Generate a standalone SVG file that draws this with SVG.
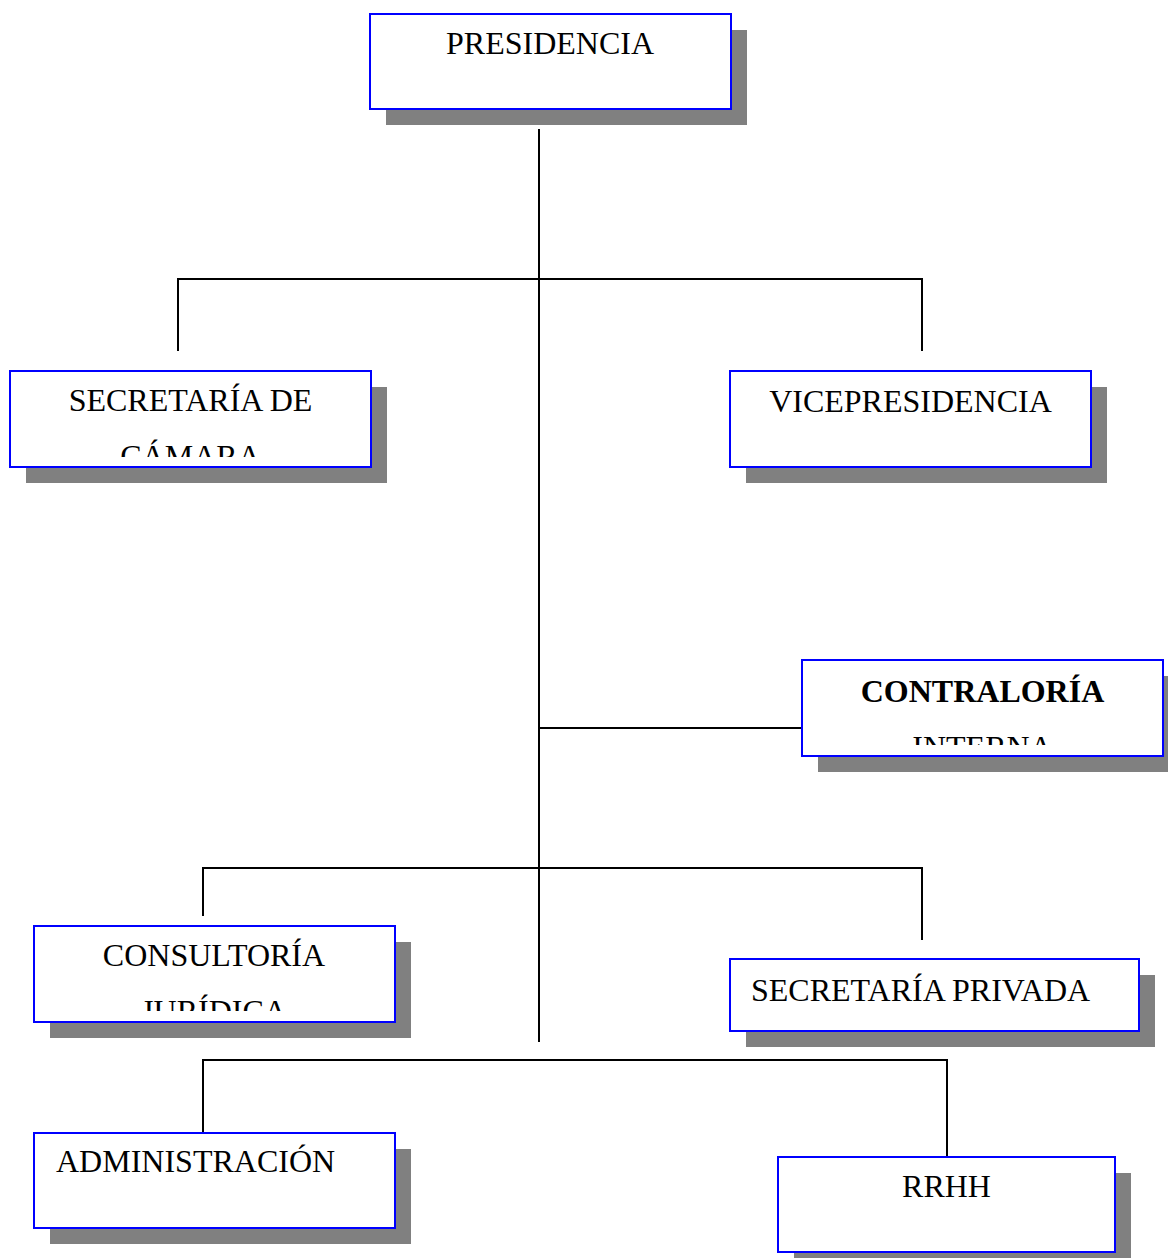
<svg xmlns="http://www.w3.org/2000/svg" width="1168" height="1258" viewBox="0 0 1168 1258">
<style>
.sh{fill:#808080}
.bx{fill:#fff;stroke:#0000ff;stroke-width:2}
.t{font-family:"Liberation Serif","Times New Roman",serif;font-size:32px;fill:#000}
.c{text-anchor:middle}
.b{font-weight:bold}
#connectors line{stroke:#000;stroke-width:2}
</style>
<defs>
<clipPath id="cp-sec"><rect x="11" y="372" width="359" height="85"/></clipPath>
<clipPath id="cp-con"><rect x="803" y="661" width="359" height="84"/></clipPath>
<clipPath id="cp-jur"><rect x="35" y="927" width="359" height="84"/></clipPath>
</defs>
<rect width="1168" height="1258" fill="#fff"/>
<g id="connectors">
<line x1="539" y1="129" x2="539" y2="1042"/>
<line x1="177" y1="279" x2="923" y2="279"/>
<line x1="178" y1="279" x2="178" y2="351"/>
<line x1="922" y1="279" x2="922" y2="351"/>
<line x1="539" y1="728" x2="802" y2="728"/>
<line x1="202" y1="868" x2="923" y2="868"/>
<line x1="203" y1="868" x2="203" y2="916"/>
<line x1="922" y1="868" x2="922" y2="940"/>
<line x1="202" y1="1060" x2="948" y2="1060"/>
<line x1="203" y1="1060" x2="203" y2="1133"/>
<line x1="947" y1="1060" x2="947" y2="1157"/>
</g>
<g id="presidencia">
<rect class="sh" x="386" y="30" width="361" height="95"/>
<rect class="bx" x="370" y="14" width="361" height="95"/>
<text class="t c" x="550" y="54">PRESIDENCIA</text>
</g>
<g id="secretaria-camara">
<rect class="sh" x="26" y="387" width="361" height="96"/>
<rect class="bx" x="10" y="371" width="361" height="96"/>
<g clip-path="url(#cp-sec)">
<text class="t c" x="190.5" y="411">SECRETARÍA DE</text>
<text class="t c" x="190.5" y="467">CÁMARA</text>
</g>
</g>
<g id="vicepresidencia">
<rect class="sh" x="746" y="387" width="361" height="96"/>
<rect class="bx" x="730" y="371" width="361" height="96"/>
<text class="t c" x="910.5" y="412">VICEPRESIDENCIA</text>
</g>
<g id="contraloria">
<rect class="sh" x="818" y="676" width="361" height="96"/>
<rect class="bx" x="802" y="660" width="361" height="96"/>
<g clip-path="url(#cp-con)">
<text class="t c b" x="982.5" y="702">CONTRALORÍA</text>
<text class="t c" x="982.5" y="758">INTERNA</text>
</g>
</g>
<g id="consultoria">
<rect class="sh" x="50" y="942" width="361" height="96"/>
<rect class="bx" x="34" y="926" width="361" height="96"/>
<g clip-path="url(#cp-jur)">
<text class="t c" x="214" y="966">CONSULTORÍA</text>
<text class="t c" x="214" y="1022">JURÍDICA</text>
</g>
</g>
<g id="secretaria-privada">
<rect class="sh" x="746" y="975" width="409" height="72"/>
<rect class="bx" x="730" y="959" width="409" height="72"/>
<text class="t" x="751" y="1001">SECRETARÍA PRIVADA</text>
</g>
<g id="administracion">
<rect class="sh" x="50" y="1149" width="361" height="95"/>
<rect class="bx" x="34" y="1133" width="361" height="95"/>
<text class="t" x="56" y="1172">ADMINISTRACIÓN</text>
</g>
<g id="rrhh">
<rect class="sh" x="794" y="1173" width="337" height="85"/>
<rect class="bx" x="778" y="1157" width="337" height="95"/>
<text class="t c" x="946.5" y="1197">RRHH</text>
</g>
</svg>
